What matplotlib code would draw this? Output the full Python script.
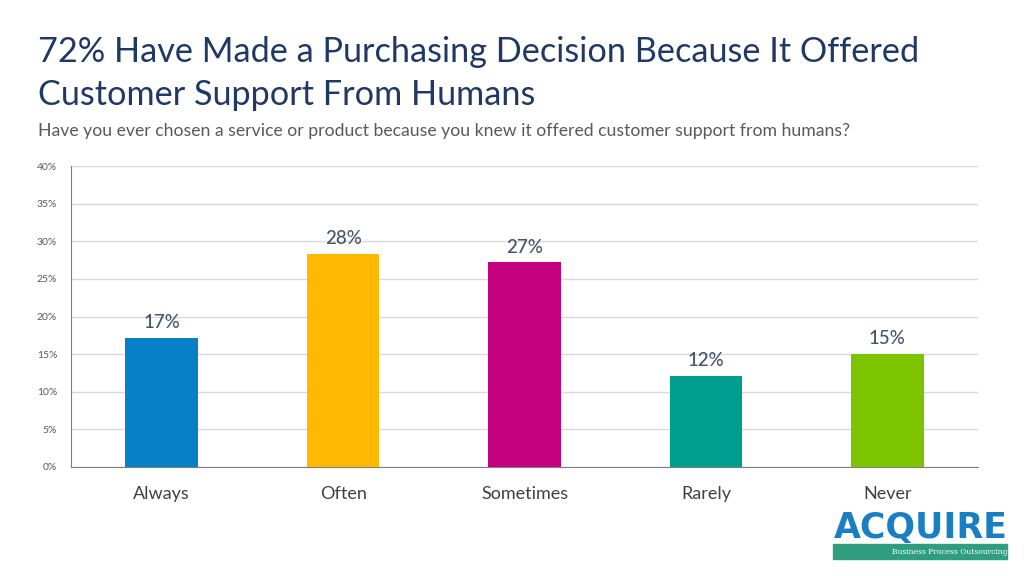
import matplotlib.pyplot as plt
from matplotlib.patches import Rectangle

categories = ['Always', 'Often', 'Sometimes', 'Rarely', 'Never']
values = [17.2, 28.3, 27.2, 12.1, 15.0]
labels = ['17%', '28%', '27%', '12%', '15%']
colors = ['#0880C8', '#FFB900', '#C5007F', '#009E8E', '#7DC400']
yticks = [0, 5, 10, 15, 20, 25, 30, 35, 40]

plt.rcParams['font.family'] = ['Lato', 'DejaVu Sans']

fig = plt.figure(figsize=(10.24, 5.76), dpi=100)
ax = fig.add_axes([71/1024, 1-467/576, 907/1024, 301/576])

ax.bar(range(len(categories)), values, width=0.4, color=colors, zorder=3)
for i, (v, lab) in enumerate(zip(values, labels)):
    ax.text(i, v + 0.9, lab, ha='center', va='bottom', fontsize=13.5,
            color='#44546A', fontweight='medium')

ax.set_xlim(-0.5, len(categories) - 0.5)
ax.set_ylim(0, 40)
ax.set_yticks(yticks)
ax.set_yticklabels([f'{t}%' for t in yticks], fontsize=7.5, color='#595959')
ax.set_xticks(range(len(categories)))
ax.set_xticklabels(categories, fontsize=13, color='#404040')
ax.tick_params(axis='both', length=0)
ax.tick_params(axis='y', pad=10)
ax.tick_params(axis='x', pad=14)
ax.grid(axis='y', color='#D9D9D9', linewidth=1, zorder=0)
for s in ['top', 'right']:
    ax.spines[s].set_visible(False)
ax.spines['left'].set_color('#7F7F7F')
ax.spines['bottom'].set_color('#7F7F7F')

fig.text(38/1024, 1-52/576, '72% Have Made a Purchasing Decision Because It Offered',
         fontsize=24.7, color='#1F3864', va='center')
fig.text(38/1024, 1-95/576, 'Customer Support From Humans',
         fontsize=24.7, color='#1F3864', va='center')
fig.text(38/1024, 1-131/576,
         'Have you ever chosen a service or product because you knew it offered customer support from humans?',
         fontsize=12.7, color='#595959', va='center')

# logo
fig.text(921/1024, 1-528/576, 'ACQUIRE', fontsize=25, fontweight='bold',
         color='#1A7EC2', ha='center', va='center', family='DejaVu Sans')
fig.patches.append(Rectangle((833/1024, 1-559/576), 174/1024, 15/576,
                             transform=fig.transFigure, color='#2E9E7E'))
fig.text(950/1024, 1-551.5/576, 'Business Process Outsourcing', fontsize=5.5,
         color='white', ha='center', va='center', family='DejaVu Serif')

fig.savefig('out.png', dpi=100)
